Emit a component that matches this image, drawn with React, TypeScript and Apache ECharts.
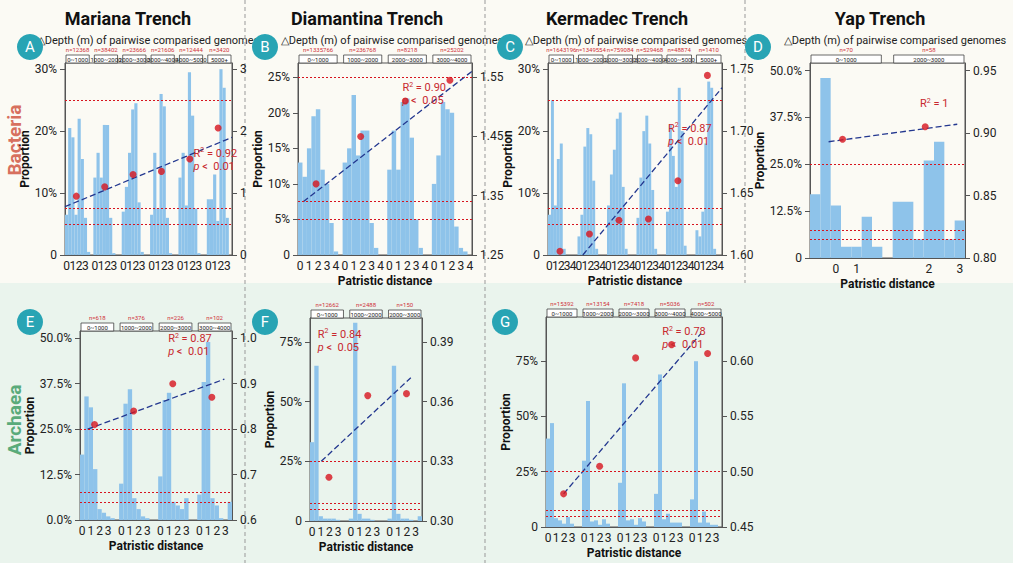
import * as echarts from 'echarts';
import { useEffect, useRef } from 'react';

// ---- data (bars in %, dots/lines on the right axis) ----
const depthsA = ['0~1000', '1000~2000', '2000~3000', '3000~4000', '4000~5000', '5000+'];
const countsA = ['n=12368', 'n=38402', 'n=23666', 'n=21606', 'n=12444', 'n=3420'];
const barsA = [
  [6.5, 20.5, 19, 6.5, 22, 15.5, 6, 0.5],
  [12.5, 16.5, 12.5, 21, 21, 6, 0.3, 0],
  [7, 11, 16.5, 23.5, 24.5, 8.5, 0.5, 0],
  [6.5, 16.5, 7.5, 26, 24, 6, 0.3, 0],
  [12.5, 16.5, 8, 29.5, 22.5, 7.5, 0.3, 0],
  [9, 9, 13, 5.5, 30, 27, 6, 0],
];
const dotsA = [0.95, 1.1, 1.3, 1.35, 1.55, 2.05];

const depthsB = ['0~1000', '1000~2000', '2000~3000', '3000~4000'];
const countsB = ['n=1335766', 'n=236768', 'n=8218', 'n=25202'];
const barsB = [
  [13, 11, 15, 19.5, 20.5, 12, 10, 4.5, 0.5],
  [13, 15, 22.5, 14, 17.5, 17.5, 4.5, 1, 0],
  [12, 17.5, 12, 21.5, 22, 16.5, 5, 1, 0],
  [10, 14, 21.5, 20.5, 20, 4, 1, 0.5, 0],
];
const dotsB = [1.37, 1.45, 1.51, 1.545];

const depthsC = ['0~1000', '1000~2000', '2000~3000', '3000~4000', '4000~5000', '5000+'];
const countsC = ['n=1643196', 'n=1349554', 'n=759084', 'n=529468', 'n=48874', 'n=1410'];
const barsC = [
  [6.5, 25, 8, 15.5, 18, 1, 0, 0, 0],
  [3, 6.5, 17.5, 20.5, 19.5, 12, 1, 0, 0],
  [8, 13, 17, 22, 23, 11, 1, 0, 0],
  [6, 12.5, 20, 22.5, 18, 10.5, 1, 0, 0],
  [7, 21, 16, 11, 27, 20, 1.5, 0, 0],
  [4, 3, 7, 18, 28, 27, 1, 0, 0],
];
const dotsC = [1.603, 1.617, 1.628, 1.629, 1.66, 1.745];

const depthsD = ['0~1000', '2000~3000'];
const countsD = ['n=70', 'n=58'];
const barsD = [
  [17, 48, 14, 3, 3, 11, 3],
  [15, 15, 5, 26, 31, 5, 10],
];
const dotsD = [0.895, 0.905];

const depthsE = ['0~1000', '1000~2000', '2000~3000', '3000~4000'];
const countsE = ['n=618', 'n=376', 'n=226', 'n=102'];
const barsE = [
  [18, 34, 31, 14, 3, 2, 1, 0.5],
  [10, 32, 36, 6, 3, 1, 0.5, 0],
  [12, 33, 35, 5, 4, 3, 6, 0],
  [7, 38, 49, 6, 4, 0.5, 0, 5],
];
const dotsE = [0.81, 0.84, 0.9, 0.87];

const depthsF = ['0~1000', '1000~2000', '2000~3000'];
const countsF = ['n=12662', 'n=2488', 'n=150'];
const barsF = [
  [33, 65, 2, 1, 1, 1, 0.5, 0],
  [1, 83, 3, 1, 1, 0.5, 0, 0],
  [1, 65, 3, 1, 1, 0.5, 0, 2],
];
const dotsF = [0.322, 0.363, 0.364];

const depthsG = ['0~1000', '1000~2000', '2000~3000', '3000~4000', '4000~5000'];
const countsG = ['n=15392', 'n=13154', 'n=7418', 'n=5036', 'n=502'];
const barsG = [
  [40, 47, 4, 3, 1.5, 4.5, 1.5, 0],
  [30, 57, 2.5, 3, 1, 3.5, 1.5, 0],
  [20, 65, 3, 3.5, 1, 4, 2.5, 0],
  [15, 69, 3.5, 6, 2, 2, 2, 0],
  [12.5, 75, 2, 7, 2, 1, 1, 0],
];
const dotsG = [0.48, 0.505, 0.603, 0.615, 0.607];

const lbl8 = ['0', '', '1', '', '2', '', '3', ''];
const lbl9 = ['0', '', '1', '', '2', '', '3', '', '4'];
const refLines = [25, 7.5, 5];

const BLUE = '#8ec3ea';
const RED = '#d7141e';
const NAVY = '#23378f';
const FONT = 'Roboto, "Noto Sans", sans-serif';

interface Panel {
  letter: string; box: [number, number, number, number];
  depths: string[]; counts: string[]; bars: number[][]; binLabels: string[][];
  dots: number[]; dotPos: number;
  line: [number, number, number, number];
  leftMax: number; leftInt: number; leftLabels: string[];
  rMin: number; rMax: number; rInt: number; rDec: number;
  r2: string; p: string | null; r2Pos: [number, number]; xName: boolean;
}

const panels: Panel[] = [
  { letter: 'A', box: [65, 63, 167, 192], depths: depthsA, counts: countsA, bars: barsA, binLabels: depthsA.map(() => lbl8),
    dots: dotsA, dotPos: 0.45, line: [0.0, 0.78, 1.0, 1.9], leftMax: 31, leftInt: 10, leftLabels: ['0', '10%', '20%', '30%'],
    rMin: 0, rMax: 3.1, rInt: 1, rDec: 0, r2: '0.92', p: '0.01', r2Pos: [0.77, 0.47], xName: false },
  { letter: 'B', box: [298, 63, 174, 192], depths: depthsB, counts: countsB, bars: barsB, binLabels: depthsB.map(() => lbl9),
    dots: dotsB, dotPos: 0.45, line: [0.03, 1.34, 1.0, 1.56], leftMax: 27, leftInt: 5, leftLabels: ['0', '5%', '10%', '15%', '20%', '25%'],
    rMin: 1.25, rMax: 1.574, rInt: 0.1, rDec: 2, r2: '0.90', p: '0.05', r2Pos: [0.6, 0.13], xName: true },
  { letter: 'C', box: [548, 63, 174, 192], depths: depthsC, counts: countsC, bars: barsC, binLabels: depthsC.map(() => lbl9),
    dots: dotsC, dotPos: 0.45, line: [0.2, 1.6, 1.0, 1.735], leftMax: 31, leftInt: 10, leftLabels: ['0', '10%', '20%', '30%'],
    rMin: 1.6, rMax: 1.755, rInt: 0.05, rDec: 2, r2: '0.87', p: '0.01', r2Pos: [0.69, 0.34], xName: true },
  { letter: 'D', box: [810, 63, 155, 195], depths: depthsD, counts: countsD, bars: barsD,
    binLabels: [['', '', '0', '', '1', '', ''], ['', '', '', '2', '', '', '3']],
    dots: dotsD, dotPos: 0.45, line: [0.12, 0.893, 0.95, 0.907], leftMax: 52, leftInt: 12.5, leftLabels: ['0', '12.5%', '25.0%', '37.5%', '50.0%'],
    rMin: 0.8, rMax: 0.956, rInt: 0.05, rDec: 2, r2: '1', p: null, r2Pos: [0.71, 0.21], xName: true },
  { letter: 'E', box: [80, 331, 152, 189], depths: depthsE, counts: countsE, bars: barsE, binLabels: depthsE.map(() => lbl8),
    dots: dotsE, dotPos: 0.42, line: [0.05, 0.8, 0.95, 0.91], leftMax: 52, leftInt: 12.5, leftLabels: ['0.0%', '12.5%', '25.0%', '37.5%', '50.0%'],
    rMin: 0.6, rMax: 1.016, rInt: 0.1, rDec: 1, r2: '0.87', p: '0.01', r2Pos: [0.58, 0.04], xName: true },
  { letter: 'F', box: [310, 318, 112, 203], depths: depthsF, counts: countsF, bars: barsF, binLabels: depthsF.map(() => lbl8),
    dots: dotsF, dotPos: 0.55, line: [0.1, 0.33, 0.9, 0.372], leftMax: 85, leftInt: 25, leftLabels: ['0', '25%', '50%', '75%'],
    rMin: 0.3, rMax: 0.402, rInt: 0.03, rDec: 2, r2: '0.84', p: '0.05', r2Pos: [0.07, 0.08], xName: true },
  { letter: 'G', box: [546, 317, 176, 210], depths: depthsG, counts: countsG, bars: barsG, binLabels: depthsG.map(() => lbl8),
    dots: dotsG, dotPos: 0.55, line: [0.1, 0.48, 0.88, 0.625], leftMax: 95, leftInt: 25, leftLabels: ['0', '25%', '50%', '75%'],
    rMin: 0.45, rMax: 0.64, rInt: 0.05, rDec: 2, r2: '0.78', p: '0.01', r2Pos: [0.66, 0.07], xName: true },
];

const titles = [
  { text: 'Mariana Trench', x: 128, sx: 148 }, { text: 'Diamantina Trench', x: 367, sx: 392 },
  { text: 'Kermadec Trench', x: 617, sx: 636 }, { text: 'Yap Trench', x: 880, sx: 895 },
];

export default function App() {
  const ref = useRef<HTMLDivElement>(null);

  useEffect(() => {
    if (!ref.current) return;
    const chart = echarts.init(ref.current, null, { renderer: 'svg' });
    const grid: any[] = [], xAxis: any[] = [], yAxis: any[] = [], series: any[] = [], graphic: any[] = [];

    titles.forEach(t => {
      graphic.push({ type: 'text', x: t.x, y: 18, style: { text: t.text, font: `bold 18px ${FONT}`, fill: '#111', align: 'center', verticalAlign: 'middle' } });
      graphic.push({ type: 'text', x: t.sx, y: 40, style: { text: '△Depth (m) of pairwise comparised genomes', font: `11px ${FONT}`, fill: '#222', align: 'center', verticalAlign: 'middle' } });
    });
    [245, 485].forEach(x => graphic.push({ type: 'line', shape: { x1: x, y1: 0, x2: x, y2: 563 }, style: { stroke: '#999', lineDash: [4, 3], lineWidth: 1 } }));
    graphic.push({ type: 'line', shape: { x1: 745, y1: 0, x2: 745, y2: 283 }, style: { stroke: '#999', lineDash: [4, 3], lineWidth: 1 } });
    graphic.push({ type: 'text', x: 14, y: 140, rotation: Math.PI / 2, style: { text: 'Bacteria', font: `bold 19px ${FONT}`, fill: '#d7705e', align: 'center', verticalAlign: 'middle' } });
    graphic.push({ type: 'text', x: 14, y: 420, rotation: Math.PI / 2, style: { text: 'Archaea', font: `bold 19px ${FONT}`, fill: '#5aab7a', align: 'center', verticalAlign: 'middle' } });

    const letterPos: Record<string, [number, number]> = { A: [30, 47], B: [265, 47], C: [510, 47], D: [758, 47], E: [30, 322], F: [265, 322], G: [505, 322] };

    panels.forEach((p, i) => {
      const [gl, gt, gw, gh] = p.box;
      const cats: string[] = [];
      const vals: (number | null)[] = [];
      const starts: number[] = [];
      p.bars.forEach((b, f) => {
        starts.push(cats.length);
        b.forEach((v, k) => { cats.push(p.binLabels[f][k] ?? ''); vals.push(v); });
        if (f < p.bars.length - 1) { cats.push(''); vals.push(null); }
      });
      const N = cats.length;
      const cw = gw / N;

      grid.push({ left: gl, top: gt, width: gw, height: gh, show: true, borderColor: '#555', borderWidth: 1, backgroundColor: 'transparent' });
      xAxis.push({ type: 'category', gridIndex: i, data: cats, boundaryGap: true,
        axisTick: { show: false }, axisLine: { lineStyle: { color: '#555' } },
        axisLabel: { interval: 0, fontSize: 12, color: '#222', margin: 5, fontFamily: FONT },
        name: p.xName ? 'Patristic distance' : '', nameLocation: 'middle', nameGap: 20,
        nameTextStyle: { fontWeight: 'bold', fontSize: 12, color: '#111', fontFamily: FONT } });
      xAxis.push({ type: 'value', gridIndex: i, min: 0, max: N, show: false });
      yAxis.push({ type: 'value', gridIndex: i, min: 0, max: p.leftMax, interval: p.leftInt, position: 'left',
        splitLine: { show: false }, axisLine: { show: true, lineStyle: { color: '#555' } }, axisTick: { show: true },
        axisLabel: { showMaxLabel: false, fontSize: 12, color: '#222', fontFamily: FONT,
          formatter: (v: number) => p.leftLabels[Math.round(v / p.leftInt)] ?? '' },
        name: 'Proportion', nameLocation: 'middle', nameGap: p.leftLabels[1].length > 3 ? 40 : 30,
        nameTextStyle: { fontWeight: 'bold', fontSize: 12, color: '#111', fontFamily: FONT } });
      yAxis.push({ type: 'value', gridIndex: i, min: p.rMin, max: p.rMax, interval: p.rInt, position: 'right',
        splitLine: { show: false }, axisLine: { show: true, lineStyle: { color: '#555' } }, axisTick: { show: true },
        axisLabel: { showMaxLabel: false, fontSize: 12, color: '#222', fontFamily: FONT, formatter: (v: number) => v.toFixed(p.rDec) } });

      const xi = i * 2, yi = i * 2;
      series.push({ type: 'bar', xAxisIndex: xi, yAxisIndex: yi, data: vals, barWidth: '100%', barGap: '0%',
        itemStyle: { color: BLUE }, silent: true,
        markLine: { symbol: 'none', silent: true, label: { show: false },
          lineStyle: { color: RED, type: [2, 2], width: 1.2 },
          data: refLines.map(y => ({ yAxis: y, lineStyle: { color: RED, type: [2, 2], width: 1.2 } })) } });
      series.push({ type: 'line', xAxisIndex: xi + 1, yAxisIndex: yi + 1,
        data: [[p.line[0] * N, p.line[1]], [p.line[2] * N, p.line[3]]], symbol: 'none',
        lineStyle: { color: NAVY, type: [6, 3], width: 1.3 }, z: 4 });
      series.push({ type: 'scatter', xAxisIndex: xi + 1, yAxisIndex: yi + 1, symbolSize: 7,
        itemStyle: { color: RED }, z: 5,
        data: p.dots.map((d, f) => [starts[f] + p.bars[f].length * p.dotPos, d]) });

      // facet strips and counts
      p.depths.forEach((d, f) => {
        const x0 = gl + starts[f] * cw + 1;
        const w = p.bars[f].length * cw - 2;
        graphic.push({ type: 'rect', shape: { x: x0, y: gt - 8, width: w, height: 8 }, style: { fill: '#fff', stroke: '#444', lineWidth: 0.8 } });
        graphic.push({ type: 'text', x: x0 + w / 2, y: gt - 4, style: { text: d, font: `6px ${FONT}`, fill: '#222', align: 'center', verticalAlign: 'middle' } });
        graphic.push({ type: 'text', x: x0 + w / 2, y: gt - 14, style: { text: p.counts[f], font: `6px ${FONT}`, fill: '#d0313a', align: 'center', verticalAlign: 'middle' } });
      });

      const tx = gl + p.r2Pos[0] * gw, ty = gt + p.r2Pos[1] * gh;
      graphic.push({ type: 'text', x: tx, y: ty, z: 10, style: {
        text: '{a|R}{s|2}{a| = ' + p.r2 + '}', font: `11px ${FONT}`, fill: '#c8282e', align: 'left', verticalAlign: 'middle',
        rich: { a: { fontSize: 11, fill: '#c8282e', fontFamily: FONT }, s: { fontSize: 7, fill: '#c8282e', verticalAlign: 'top', padding: [0, 0, 6, 0], fontFamily: FONT } } } });
      if (p.p) graphic.push({ type: 'text', x: tx, y: ty + 13, z: 10, style: {
        text: '{i|p}{a| <  ' + p.p + '}', align: 'left', verticalAlign: 'middle',
        rich: { i: { fontSize: 11, fontStyle: 'italic', fill: '#c8282e', fontFamily: FONT }, a: { fontSize: 11, fill: '#c8282e', fontFamily: FONT } } } });

      const [cx, cy] = letterPos[p.letter];
      graphic.push({ type: 'circle', shape: { cx, cy, r: 13 }, style: { fill: '#28a4b4' } });
      graphic.push({ type: 'text', x: cx, y: cy, style: { text: p.letter, font: `15px ${FONT}`, fill: '#fff', align: 'center', verticalAlign: 'middle' } });
    });

    chart.setOption({ animation: false, backgroundColor: 'transparent', textStyle: { fontFamily: FONT }, grid, xAxis, yAxis, series, graphic });
    return () => chart.dispose();
  }, []);

  return (
    <div style={{ position: 'fixed', left: 0, top: 0, width: 1013, height: 563,
      background: 'linear-gradient(#fbfaf4 0px, #fbfaf4 283px, #eaf4ed 283px, #eaf4ed 563px)' }}>
      <div ref={ref} style={{ width: 1013, height: 563 }} />
    </div>
  );
}
